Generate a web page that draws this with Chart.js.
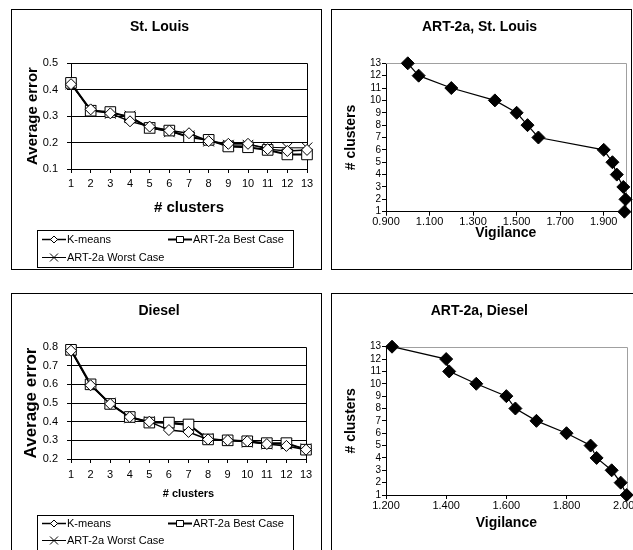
<!DOCTYPE html>
<html lang="en">
<head>
<meta charset="utf-8">
<title>Average error and ART-2a vigilance</title>
<style>
  html, body { margin: 0; padding: 0; background: #fff; }
  body { position: relative; width: 633px; height: 550px; overflow: hidden; }
  .frame { position: absolute; border: 1px solid #000; box-sizing: border-box; z-index: 2; pointer-events: none; }
  .box { position: absolute; }
</style>
</head>
<body>
<div class="frame" style="left:11px;top:9px;width:311px;height:261px"></div>
<div class="frame" style="left:331px;top:9px;width:301px;height:261px"></div>
<div class="frame" style="left:11px;top:293px;width:311px;height:300px"></div>
<div class="frame" style="left:331px;top:293px;width:340px;height:300px"></div>

<div class="box" style="left:12px;top:10px;width:308px;height:259px"><canvas id="errStl"></canvas></div>
<div class="box" style="left:332px;top:10px;width:301px;height:259px"><canvas id="vigStl"></canvas></div>
<div class="box" style="left:12px;top:294px;width:308px;height:270px"><canvas id="errDsl"></canvas></div>
<div class="box" style="left:332px;top:294px;width:310px;height:270px"><canvas id="vigDsl"></canvas></div>

<script src="https://cdn.jsdelivr.net/npm/chart.js/dist/chart.umd.min.js"></script>
<script>
// ---- data ----
const clusterLabels = ['1', '2', '3', '4', '5', '6', '7', '8', '9', '10', '11', '12', '13'];
const seriesNames = ['K-means', 'ART-2a Best Case', 'ART-2a Worst Case'];

// St. Louis average error
const kmeansStl = [0.42, 0.325, 0.31, 0.28, 0.26, 0.245, 0.235, 0.205, 0.195, 0.195, 0.175, 0.168, 0.172];
const bestStl   = [0.425, 0.32, 0.315, 0.295, 0.255, 0.245, 0.22, 0.21, 0.185, 0.182, 0.172, 0.155, 0.155];
const worstStl  = [0.42, 0.32, 0.31, 0.30, 0.255, 0.24, 0.225, 0.205, 0.19, 0.19, 0.182, 0.18, 0.18];

// Diesel average error
const kmeansDsl = [0.78, 0.595, 0.495, 0.425, 0.40, 0.355, 0.345, 0.305, 0.30, 0.295, 0.28, 0.27, 0.25];
const bestDsl   = [0.785, 0.60, 0.495, 0.425, 0.395, 0.395, 0.385, 0.305, 0.30, 0.295, 0.285, 0.285, 0.25];
const worstDsl  = [0.78, 0.60, 0.50, 0.42, 0.40, 0.39, 0.38, 0.31, 0.30, 0.29, 0.28, 0.28, 0.255];

// ART-2a: number of clusters vs vigilance
const artClusters = [13, 12, 11, 10, 9, 8, 7, 6, 5, 4, 3, 2, 1];
const vigStl = [1.0, 1.05, 1.2, 1.4, 1.5, 1.55, 1.6, 1.9, 1.94, 1.96, 1.99, 2.0, 1.995];
const vigDsl = [1.22, 1.40, 1.41, 1.50, 1.60, 1.63, 1.70, 1.80, 1.88, 1.90, 1.95, 1.98, 2.0];
const vigTicksStl = [0.9, 1.1, 1.3, 1.5, 1.7, 1.9];
const vigTicksDsl = [1.2, 1.4, 1.6, 1.8, 2.0];

Chart.defaults.font.family = 'Arial, "Liberation Sans", sans-serif';
Chart.defaults.color = '#000';

// top + right edge of the plot area
const plotFrame = {
  id: 'plotFrame',
  beforeDatasetsDraw(chart, args, opts) {
    const {left, top, right, bottom} = chart.chartArea;
    const ctx = chart.ctx;
    ctx.save();
    ctx.strokeStyle = opts.color || '#000';
    ctx.lineWidth = 1;
    ctx.beginPath();
    ctx.moveTo(left, Math.round(top) + 0.5);
    ctx.lineTo(Math.round(right) + 0.5, Math.round(top) + 0.5);
    ctx.lineTo(Math.round(right) + 0.5, bottom);
    ctx.stroke();
    ctx.restore();
  }
};

function legendMarker(ctx, style, x, y) {
  ctx.beginPath();
  if (style === 'rectRot') {
    ctx.moveTo(x - 3.5, y); ctx.lineTo(x, y - 3.5); ctx.lineTo(x + 3.5, y); ctx.lineTo(x, y + 3.5);
    ctx.closePath(); ctx.fill(); ctx.stroke();
  } else if (style === 'rect') {
    ctx.rect(x - 3.5, y - 3, 7, 6); ctx.fill(); ctx.stroke();
  } else {
    ctx.moveTo(x - 4, y - 4); ctx.lineTo(x + 4, y + 4);
    ctx.moveTo(x + 4, y - 4); ctx.lineTo(x - 4, y + 4); ctx.stroke();
  }
}

// boxed legend, line sample with marker, Excel style
const boxLegend = {
  id: 'boxLegend',
  afterDraw(chart, args, opts) {
    if (!opts.items) return;
    const ctx = chart.ctx;
    ctx.save();
    ctx.strokeStyle = '#000';
    ctx.lineWidth = 1;
    ctx.strokeRect(opts.x + 0.5, opts.y + 0.5, opts.w, opts.h);
    ctx.font = '11px Arial, "Liberation Sans", sans-serif';
    ctx.textBaseline = 'middle';
    chart.data.datasets.forEach((ds, i) => {
      const p = opts.items[i];
      ctx.lineWidth = ds.borderWidth;
      ctx.beginPath();
      ctx.moveTo(p.x, p.y + 0.5);
      ctx.lineTo(p.x + 24, p.y + 0.5);
      ctx.stroke();
      ctx.lineWidth = 1;
      ctx.fillStyle = '#fff';
      legendMarker(ctx, ds.pointStyle, p.x + 12, p.y + 0.5);
      ctx.fillStyle = '#000';
      ctx.fillText(ds.label, p.x + 25, p.y + 0.5);
    });
    ctx.restore();
  }
};

function errorChart(id, title, k, b, w, o) {
  const mk = (label, data, style, radius, bw) => ({
    label, data, pointStyle: style, pointRadius: radius,
    borderColor: '#000', backgroundColor: '#fff',
    pointBackgroundColor: '#fff', pointBorderColor: '#000', pointBorderWidth: 1,
    borderWidth: bw, tension: 0, clip: false
  });
  return new Chart(document.getElementById(id), {
    type: 'line',
    data: {
      labels: clusterLabels,
      datasets: [
        mk(seriesNames[0], k, 'rectRot', 5.5, 1.5),
        mk(seriesNames[1], b, 'rect', 7.5, 2),
        mk(seriesNames[2], w, 'crossRot', 7.5, 1)
      ]
    },
    options: {
      responsive: true,
      maintainAspectRatio: false,
      animation: false,
      events: [],
      layout: { padding: { left: 0, right: o.padRight, top: 0, bottom: o.padBottom } },
      plugins: {
        legend: { display: false },
        tooltip: { enabled: false },
        title: {
          display: true, text: title, color: '#000',
          font: { size: 14, weight: 'bold' },
          padding: { top: o.titleTop, bottom: o.titleBottom }
        },
        plotFrame: { color: '#000' },
        boxLegend: o.legend
      },
      scales: {
        x: {
          offset: false,
          grid: { drawOnChartArea: false, drawTicks: true, tickLength: 4, color: '#000' },
          border: { color: '#000' },
          ticks: { font: { size: 11 }, padding: o.xPad, maxRotation: 0, autoSkip: false },
          title: { display: true, text: '# clusters', font: { size: o.xTitleSize, weight: 'bold' }, padding: { top: 0, bottom: 0 } },
          afterFit: s => { s.height = o.xHeight; }
        },
        y: {
          min: o.yMin, max: o.yMax,
          grid: { color: '#000', tickLength: 4 },
          border: { color: '#000' },
          ticks: { stepSize: 0.1, font: { size: 11 }, padding: 9 },
          title: { display: true, text: 'Average error', font: { size: o.yTitleSize, weight: 'bold' }, padding: { top: o.yTitleTop, bottom: 0 } },
          afterFit: s => { s.width = o.yWidth; }
        }
      }
    },
    plugins: [plotFrame, boxLegend]
  });
}

function vigChart(id, title, vig, vigTicks, o) {
  return new Chart(document.getElementById(id), {
    type: 'scatter',
    data: {
      datasets: [{
        label: title,
        data: artClusters.map((c, i) => ({ x: vig[i], y: c })),
        showLine: true, clip: false,
        borderColor: '#000', borderWidth: 1.2,
        pointStyle: 'rectRot', pointRadius: 6.5,
        pointBackgroundColor: '#000', pointBorderColor: '#000', pointBorderWidth: 1
      }]
    },
    options: {
      responsive: true,
      maintainAspectRatio: false,
      animation: false,
      events: [],
      layout: { padding: { left: 0, right: o.padRight, top: 0, bottom: o.padBottom } },
      plugins: {
        legend: { display: false },
        tooltip: { enabled: false },
        title: {
          display: true, text: title, color: '#000',
          font: { size: 14, weight: 'bold' },
          padding: { top: o.titleTop, bottom: o.titleBottom }
        },
        plotFrame: { color: '#a0a0a0' }
      },
      scales: {
        x: {
          type: 'linear', min: o.xMin, max: o.xMax,
          afterBuildTicks: s => { s.ticks = vigTicks.map(v => ({ value: v })); },
          grid: { drawOnChartArea: false, drawTicks: true, tickLength: 4, color: '#000' },
          border: { color: '#000' },
          ticks: { font: { size: 11 }, padding: 0, maxRotation: 0, autoSkip: false, callback: v => v.toFixed(3) },
          title: { display: true, text: 'Vigilance', font: { size: 14, weight: 'bold' }, padding: { top: 0, bottom: 0 } },
          afterFit: s => { s.height = o.xHeight; }
        },
        y: {
          min: 1, max: 13,
          grid: { drawOnChartArea: false, drawTicks: true, tickLength: 4, color: '#000' },
          border: { color: '#000' },
          ticks: { stepSize: 1, font: { size: 10 }, padding: 1, autoSkip: false },
          title: { display: true, text: '# clusters', font: { size: 14, weight: 'bold' }, padding: { top: 10.6, bottom: 0 } },
          afterFit: s => { s.width = 54; }
        }
      }
    },
    plugins: [plotFrame]
  });
}

errorChart('errStl', 'St. Louis', kmeansStl, bestStl, worstStl, {
  padRight: 13, padBottom: 52, titleTop: 9, titleBottom: 27.2,
  xPad: 4, xHeight: 48, xTitleSize: 15,
  yMin: 0.1, yMax: 0.5, yWidth: 59, yTitleSize: 15, yTitleTop: 12,
  legend: { x: 25, y: 220, w: 256, h: 37, items: [{ x: 30, y: 229 }, { x: 156, y: 229 }, { x: 30, y: 247 }] }
});

errorChart('errDsl', 'Diesel', kmeansDsl, bestDsl, worstDsl, {
  padRight: 14, padBottom: 63, titleTop: 8.6, titleBottom: 27.6,
  xPad: 5, xHeight: 42, xTitleSize: 11,
  yMin: 0.2, yMax: 0.8, yWidth: 59, yTitleSize: 17, yTitleTop: 9.5,
  legend: { x: 25, y: 221, w: 256, h: 40, items: [{ x: 30, y: 229 }, { x: 156, y: 229 }, { x: 30, y: 246 }] }
});

vigChart('vigStl', 'ART-2a, St. Louis', vigStl, vigTicksStl, {
  padRight: 6, padBottom: 27.6, titleTop: 8.9, titleBottom: 27.6,
  xMin: 0.9, xMax: 2.0, xHeight: 29.7
});

vigChart('vigDsl', 'ART-2a, Diesel', vigDsl, vigTicksDsl, {
  padRight: 15.3, padBottom: 32.3, titleTop: 8.6, titleBottom: 27.3,
  xMin: 1.2, xMax: 2.0, xHeight: 36.7
});
</script>
</body>
</html>
